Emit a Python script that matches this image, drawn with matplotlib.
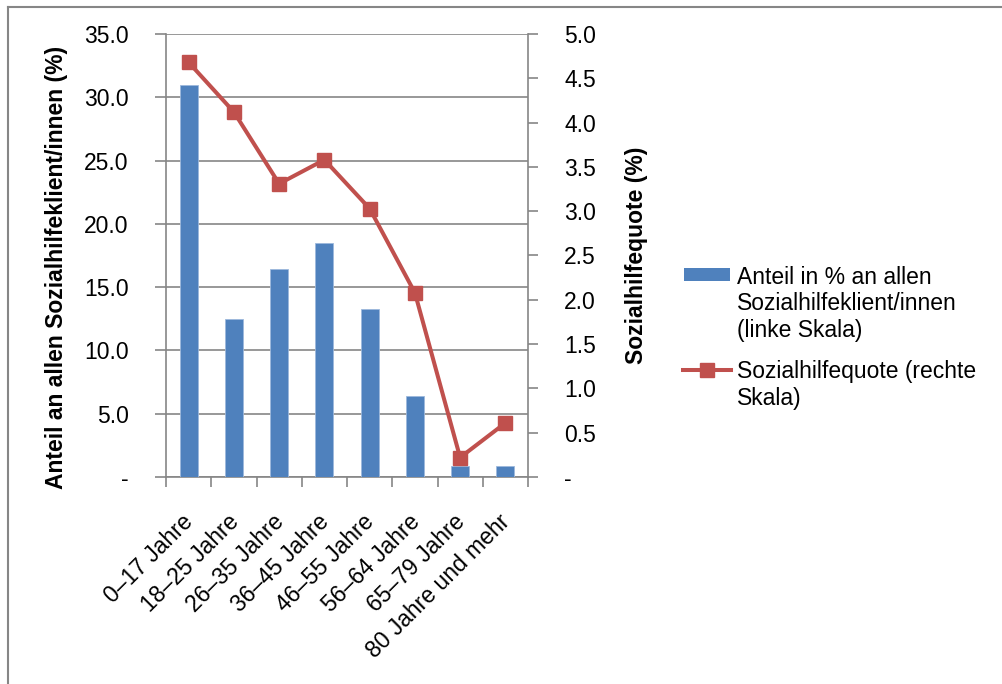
import numpy as np
import matplotlib
matplotlib.use("Agg")
import matplotlib.pyplot as plt
import matplotlib.transforms as mtransforms
from matplotlib.lines import Line2D
from matplotlib.patches import Rectangle

plt.rcParams["font.family"] = ["Liberation Sans", "DejaVu Sans"]
plt.rcParams["font.size"] = 16.5

# Altersgruppen
categories = ["0–17 Jahre", "18–25 Jahre", "26–35 Jahre", "36–45 Jahre",
              "46–55 Jahre", "56–64 Jahre", "65–79 Jahre", "80 Jahre und mehr"]

# Anteil in % an allen Sozialhilfeklient/innen (linke Skala)
anteil = [31.0, 12.5, 16.4, 18.5, 13.3, 6.4, 0.85, 0.85]

# Sozialhilfequote in % (rechte Skala)
quote = [4.68, 4.12, 3.31, 3.58, 3.03, 2.08, 0.22, 0.61]

left_ticks = [0, 5, 10, 15, 20, 25, 30, 35]
right_ticks = [0, 0.5, 1.0, 1.5, 2.0, 2.5, 3.0, 3.5, 4.0, 4.5, 5.0]

legend_bar_lines = ["Anteil in % an allen", "Sozialhilfeklient/innen", "(linke Skala)"]
legend_line_lines = ["Sozialhilfequote (rechte", "Skala)"]

BLUE = "#4F81BD"
RED = "#C0504D"
GRAY = "#868686"

W, H = 1002, 684
fig = plt.figure(figsize=(W / 100, H / 100), dpi=100)


def fx(px):
    return px / W


def fy(py):
    return 1 - py / H


ax = fig.add_axes([fx(166), fy(477), fx(528) - fx(166), fy(34) - fy(477)])
x = np.arange(len(categories))

ax.bar(x, anteil, width=0.4, color=BLUE, edgecolor="#9DB9DC", linewidth=0.6, zorder=3)
ax.set_xlim(-0.5, len(categories) - 0.5)
ax.set_ylim(0, 35)
ax.set_axisbelow(True)
ax.yaxis.grid(True, color=GRAY, linewidth=1.2)

ax.set_yticks(left_ticks)
ax.set_yticklabels(["-" if v == 0 else f"{v:.1f}" for v in left_ticks])
ax.tick_params(axis="y", direction="out", length=8, width=1.2, color=GRAY, pad=19)

# category labels at centres, tick marks at the boundaries
ax.set_xticks(x)
ax.set_xticklabels(categories, rotation=45, ha="right", rotation_mode="anchor")
ax.tick_params(axis="x", which="major", length=0, pad=24)
shift = mtransforms.ScaledTranslation(-7 / 100, 0, fig.dpi_scale_trans)
for lbl in ax.get_xticklabels():
    lbl.set_transform(lbl.get_transform() + shift)
ax.set_xticks(np.arange(-0.5, len(categories)), minor=True)
ax.tick_params(axis="x", which="minor", direction="out", length=7, width=1.2, color=GRAY)

for side in ["top", "right"]:
    ax.spines[side].set_visible(False)
for side in ["left", "bottom"]:
    ax.spines[side].set_color(GRAY)
    ax.spines[side].set_linewidth(1.2)

ax.set_ylabel("Anteil an allen Sozialhilfeklient/innen (%)", fontweight="bold")
ax.yaxis.set_label_coords(-0.271, 0.474)

ax2 = ax.twinx()
ax2.plot(x, quote, color=RED, linewidth=2.9, marker="s", markersize=10, zorder=4)
ax2.set_ylim(0, 5)
ax2.set_yticks(right_ticks)
ax2.set_yticklabels(["-" if v == 0 else f"{v:.1f}" for v in right_ticks])
ax2.tick_params(axis="y", direction="out", length=7, width=1.2, color=GRAY, pad=19)
for side in ["top", "left", "bottom"]:
    ax2.spines[side].set_visible(False)
ax2.spines["right"].set_color(GRAY)
ax2.spines["right"].set_linewidth(1.2)
ax2.set_ylabel("Sozialhilfequote (%)", fontweight="bold")
ax2.yaxis.set_label_coords(1.268, 0.501)

# legend, drawn by hand so the handles sit next to the first text line
fig.add_artist(Rectangle((fx(684), fy(281)), fx(730) - fx(684), fy(268) - fy(281),
                         transform=fig.transFigure, facecolor=BLUE, edgecolor="none"))
for i, line in enumerate(legend_bar_lines):
    fig.text(fx(737), fy(284 + 26.5 * i), line, va="baseline", ha="left")

fig.add_artist(Line2D([fx(683), fx(731)], [fy(370), fy(370)], transform=fig.transFigure,
                      color=RED, linewidth=2.9))
fig.add_artist(Line2D([fx(707)], [fy(370)], transform=fig.transFigure, color=RED,
                      marker="s", markersize=10))
for i, line in enumerate(legend_line_lines):
    fig.text(fx(737), fy(378 + 26.5 * i), line, va="baseline", ha="left")

# outer chart frame (only top and left edges are visible)
fig.add_artist(Line2D([fx(8), 1], [fy(7), fy(7)], transform=fig.transFigure, color=GRAY, linewidth=1.5))
fig.add_artist(Line2D([fx(8), fx(8)], [fy(7), 0], transform=fig.transFigure, color=GRAY, linewidth=1.5))

fig.savefig("out.png", dpi=100)
